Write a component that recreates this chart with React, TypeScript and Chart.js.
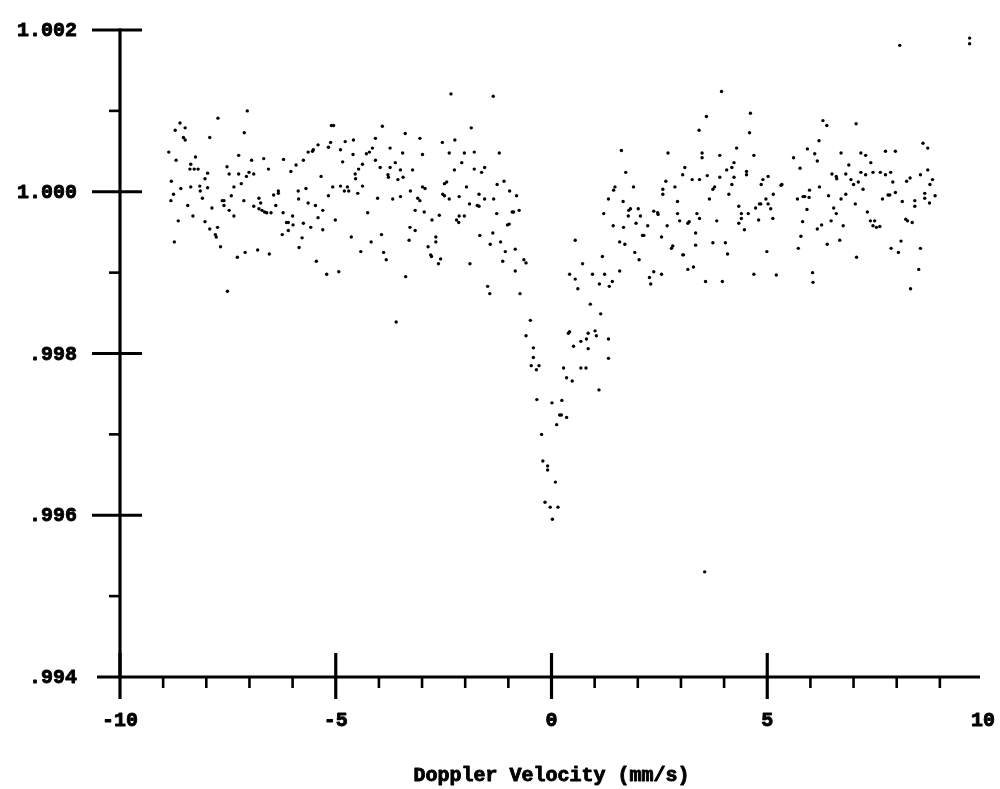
import React, { useEffect, useRef } from "react";
import { Chart, registerables } from "chart.js";

Chart.register(...registerables);

// ---- Data (velocity in mm/s, relative transmission) ----
const leftWingVelocity = [
  -7.05, -7.73, -8.61, -8.72, -8.49, -8.53, -8.49, -7.92, -7.12, -5.05,
  -5.10, -8.87, -8.70, -8.25, -8.36, -8.38, -8.28, -8.19, -7.97, -8.03,
  -8.81, -8.59, -8.76, -8.82, -8.36, -8.15, -8.14, -7.97, -8.09, -8.43,
  -8.31, -8.65, -8.74, -7.87, -7.63, -7.59, -7.59, -7.47, -7.36, -7.42,
  -7.36, -7.47, -7.52, -7.25, -7.25, -7.19, -7.13, -7.07, -7.01, -6.90,
  -6.95, -6.67, -6.56, -6.78, -6.74, -6.90, -6.78, -6.71, -6.65, -6.60,
  -6.50, -6.39, -6.44, -6.33, -6.33, -6.21, -6.04, -5.92, -5.75, -5.64,
  -5.54, -5.52, -5.41, -5.17, -5.12, -4.89, -4.78, -4.59, -4.84, -4.60,
  -4.55, -4.54, -4.47, -5.34, -5.07, -4.89, -4.80, -4.73, -4.70, -4.49,
  -5.17, -5.87, -5.69, -5.86, -5.64, -5.47, -5.30, -5.41, -5.01, -6.22,
  -6.00, -6.14, -6.10, -5.99, -6.10, -5.75, -5.58, -5.30, -6.24, -5.78,
  -5.85, -4.64, -5.45, -5.21, -4.93, -8.03, -7.92, -7.74, -7.79, -7.77,
  -7.67, -7.28, -7.10, -6.81, -6.54, -7.51,
];
const leftWingTransmission = [
  1.00100, 1.00091, 1.00085, 1.00076, 1.00079, 1.00067, 1.00064, 1.00067, 1.00073, 1.00082,
  1.00082, 1.00049, 1.00039, 1.00043, 1.00034, 1.00028, 1.00028, 1.00028, 1.00023, 1.00016,
  1.00013, 1.00004, 0.99997, 0.99989, 1.00006, 1.00007, 1.00001, 1.00005, 0.99992, 0.99983,
  0.99970, 0.99964, 0.99938, 0.99980, 0.99989, 0.99989, 0.99983, 0.99977, 0.99970, 0.99995,
  1.00006, 1.00022, 1.00031, 1.00045, 1.00022, 1.00010, 0.99989, 1.00019, 1.00024, 1.00022,
  1.00039, 1.00041, 1.00028, 0.99992, 0.99986, 0.99982, 0.99979, 0.99977, 0.99975, 0.99974,
  0.99974, 0.99983, 0.99996, 1.00001, 0.99998, 1.00040, 1.00025, 1.00033, 1.00039, 1.00049,
  1.00050, 1.00052, 1.00058, 1.00055, 1.00061, 1.00052, 1.00062, 1.00064, 1.00037, 1.00046,
  1.00022, 1.00016, 1.00028, 1.00019, 1.00006, 1.00007, 1.00001, 1.00006, 1.00001, 0.99998,
  0.99995, 1.00001, 1.00004, 0.99991, 0.99986, 0.99983, 0.99977, 0.99968, 0.99965, 0.99974,
  0.99970, 0.99962, 0.99962, 0.99959, 0.99952, 0.99961, 0.99956, 0.99953, 0.99947, 0.99943,
  0.99931, 0.99944, 0.99914, 0.99898, 0.99901, 0.99963, 0.99954, 0.99956, 0.99947, 0.99944,
  0.99932, 0.99919, 0.99925, 0.99928, 0.99923, 0.99877,
];

const innerLeftVelocity = [
  -2.33, -1.35, -3.92, -3.39, -4.08, -3.05, -1.86, -2.24, -2.53, -4.15,
  -3.74, -4.29, -4.22, -3.45, -2.99, -2.37, -2.02, -1.79, -1.21, -4.08,
  -4.38, -3.97, -3.74, -3.62, -3.50, -3.22, -3.79, -3.78, -3.56, -3.44,
  -2.08, -2.25, -1.79, -1.62, -1.55, -4.38, -3.27, -2.99, -2.93, -2.48,
  -2.43, -1.97, -1.26, -1.10, -0.97, -0.81, -4.03, -3.68, -3.50, -3.10,
  -3.05, -2.52, -2.48, -2.37, -2.14, -1.90, -1.72, -1.68, -1.68, -1.55,
  -1.34, -4.26, -3.16, -2.95, -2.60, -2.77, -2.20, -2.15, -2.14, -2.02,
  -1.27, -0.91, -0.88, -0.75, -1.02, -0.98, -3.28, -3.16, -3.94, -4.18,
  -3.30, -2.68, -2.68, -2.86, -2.80, -2.78, -2.57, -2.62, -1.89, -1.66,
  -1.36, -1.42, -1.18, -1.07, -0.84, -1.13, -0.64, -0.59, -0.84, -4.42,
  -3.89, -3.83, -3.38, -1.48, -1.43, -0.73, -3.60,
];
const innerLeftTransmission = [
  1.00121, 1.00118, 1.00081, 1.00072, 1.00066, 1.00066, 1.00079, 1.00064, 1.00061, 1.00054,
  1.00054, 1.00047, 1.00049, 1.00048, 1.00046, 1.00048, 1.00048, 1.00049, 1.00048, 1.00039,
  1.00034, 1.00030, 1.00030, 1.00036, 1.00027, 1.00027, 1.00021, 1.00018, 1.00015, 1.00018,
  1.00036, 1.00027, 1.00028, 1.00024, 1.00030, 1.00007, 1.00001, 1.00006, 1.00004, 1.00010,
  1.00012, 1.00006, 1.00009, 1.00013, 1.00001, 0.99995, 0.99992, 0.99991, 0.99994, 0.99992,
  0.99989, 0.99997, 0.99995, 0.99991, 0.99994, 0.99985, 0.99983, 0.99982, 0.99997, 0.99991,
  0.99991, 0.99974, 0.99977, 0.99975, 0.99971, 0.99965, 0.99965, 0.99962, 0.99970, 0.99970,
  0.99973, 0.99975, 0.99975, 0.99977, 0.99959, 0.99960, 0.99956, 0.99952, 0.99947, 0.99938,
  0.99940, 0.99944, 0.99938, 0.99932, 0.99922, 0.99920, 0.99917, 0.99911, 0.99911, 0.99946,
  0.99949, 0.99935, 0.99938, 0.99926, 0.99929, 0.99914, 0.99916, 0.99912, 0.99902, 0.99926,
  0.99925, 0.99916, 0.99895, 0.99883, 0.99874, 0.99874, 0.99839,
];

const dipVelocity = [
  0.90, 1.14, -0.49, -0.59, -0.42, -0.42, -0.47, -0.29, -0.35, 0.39,
  0.42, 0.85, 1.01, 1.04, 0.81, 0.68, 0.51, 0.85, 1.32, 1.32,
  0.28, 0.68, 0.80, 0.35, 0.48, 1.10, -0.34, 0.01, 0.24, 0.19,
  0.23, 0.35, 0.12, -0.23, -0.20, -0.09, -0.09, 0.09, -0.15, -0.03,
  0.15, 0.02,
];
const dipTransmission = [
  0.99861, 0.99849, 0.99841, 0.99822, 0.99807, 0.99795, 0.99785, 0.99785, 0.99780, 0.99825,
  0.99827, 0.99825, 0.99828, 0.99822, 0.99818, 0.99815, 0.99809, 0.99806, 0.99818, 0.99794,
  0.99782, 0.99782, 0.99782, 0.99770, 0.99766, 0.99755, 0.99743, 0.99739, 0.99742, 0.99724,
  0.99724, 0.99721, 0.99712, 0.99700, 0.99667, 0.99661, 0.99656, 0.99641, 0.99616, 0.99610,
  0.99610, 0.99595,
];

const innerRightVelocity = [
  3.94, 3.59, 3.42, 1.62, 2.70, 3.49, 3.49, 3.90, 4.29, 4.23,
  4.18, 4.06, 4.23, 4.18, 4.11, 4.34, 1.72, 3.09, 3.04, 3.26,
  3.43, 3.61, 3.90, 2.65, 2.58, 2.58, 2.86, 3.74, 3.78, 3.66,
  1.47, 1.44, 1.90, 1.32, 1.66, 2.92, 1.21, 1.83, 1.79, 2.01,
  1.78, 2.06, 2.37, 2.46, 2.47, 2.92, 3.37, 3.43, 3.16, 3.19,
  2.97, 3.83, 4.34, 1.43, 1.67, 1.96, 2.23, 2.68, 3.34, 2.11,
  2.14, 2.55, 0.55, 1.58, 1.70, 2.81, 2.78, 3.34, 3.74, 4.03,
  4.08, 3.04, 3.06, 1.93, 2.03, 1.18, 0.72, 1.58, 0.95, 1.23,
  0.42, 0.55, 0.61, 1.11, 1.34, 1.41, 2.37, 2.55, 2.27, 2.30,
  3.16, 3.29, 3.57, 3.96, 3.55,
];
const innerRightTransmission = [
  1.00124, 1.00093, 1.00076, 1.00051, 1.00048, 1.00048, 1.00042, 1.00045, 1.00054, 1.00036,
  1.00030, 1.00027, 1.00018, 1.00009, 0.99997, 0.99982, 1.00024, 1.00030, 1.00021, 1.00015,
  1.00015, 1.00020, 1.00018, 1.00013, 1.00003, 0.99997, 1.00006, 1.00003, 1.00006, 0.99991,
  1.00006, 1.00002, 1.00006, 0.99991, 0.99988, 0.99988, 0.99973, 0.99979, 0.99977, 0.99979,
  0.99970, 0.99970, 0.99976, 0.99974, 0.99972, 0.99973, 0.99973, 0.99967, 0.99961, 0.99963,
  0.99964, 0.99964, 0.99961, 0.99958, 0.99956, 0.99961, 0.99958, 0.99958, 0.99949, 0.99946,
  0.99946, 0.99944, 0.99940, 0.99938, 0.99935, 0.99933, 0.99930, 0.99934, 0.99937, 0.99937,
  0.99923, 0.99922, 0.99922, 0.99925, 0.99916, 0.99920, 0.99911, 0.99902, 0.99898, 0.99898,
  0.99898, 0.99892, 0.99880, 0.99886, 0.99883, 0.99889, 0.99901, 0.99898, 0.99894, 0.99886,
  0.99904, 0.99907, 0.99889, 0.99889, 0.99530,
];

const rightWingVelocity = [
  8.07, 9.69, 9.69, 4.61, 4.59, 4.69, 4.52, 4.52, 6.29, 6.38,
  7.06, 6.20, 5.93, 6.10, 6.16, 5.76, 6.71, 7.17, 7.28, 7.40,
  6.89, 7.74, 7.97, 8.61, 8.72, 8.72, 8.55, 8.83, 8.77, 8.23,
  8.31, 7.91, 7.86, 7.74, 7.62, 7.45, 7.28, 7.17, 6.82, 6.94,
  7.11, 7.00, 7.22, 6.60, 6.61, 6.50, 6.21, 5.98, 5.83, 5.87,
  5.97, 5.70, 5.92, 6.42, 6.71, 6.82, 7.04, 6.54, 6.60, 7.32,
  7.39, 7.49, 7.45, 7.53, 7.61, 7.67, 7.80, 7.84, 7.97, 8.13,
  8.42, 8.42, 8.65, 8.65, 8.76, 8.89, 8.21, 8.25, 8.36, 8.10,
  7.87, 8.04, 8.55, 8.51, 8.32, 7.07, 6.68, 6.39, 6.26, 6.16,
  6.48, 6.76, 5.82, 5.78, 5.72, 6.05, 6.06, 4.99, 4.69, 5.02,
  4.90, 4.86, 5.32, 5.34, 5.02, 4.82, 4.85, 4.73, 4.97, 5.08,
  4.56, 4.40, 4.40, 4.80, 4.47, 5.61, 5.21, 5.14, 5.13,
];
const rightWingTransmission = [
  1.00181, 1.00190, 1.00183, 1.00097, 1.00073, 1.00045, 1.00025, 1.00021, 1.00088, 1.00082,
  1.00084, 1.00063, 1.00053, 1.00047, 1.00038, 1.00029, 1.00048, 1.00048, 1.00045, 1.00036,
  1.00033, 1.00050, 1.00050, 1.00060, 1.00054, 1.00027, 1.00021, 1.00015, 1.00009, 1.00013,
  1.00017, 1.00012, 1.00024, 1.00021, 1.00024, 1.00024, 1.00021, 1.00024, 1.00022, 1.00015,
  1.00012, 1.00009, 1.00003, 1.00019, 1.00016, 1.00022, 1.00006, 1.00002, 0.99994, 0.99994,
  0.99993, 0.99991, 0.99978, 0.99995, 0.99991, 0.99997, 0.99985, 0.99980, 0.99973, 0.99975,
  0.99964, 0.99964, 0.99958, 0.99956, 0.99957, 0.99991, 0.99996, 0.99996, 0.99999, 0.99988,
  0.99989, 0.99982, 0.99998, 0.99992, 0.99986, 0.99995, 0.99966, 0.99964, 0.99962, 0.99939,
  0.99930, 0.99925, 0.99930, 0.99904, 0.99880, 0.99919, 0.99940, 0.99935, 0.99959, 0.99954,
  0.99964, 0.99958, 0.99963, 0.99945, 0.99930, 0.99900, 0.99888, 0.99926, 0.99898, 1.00019,
  1.00015, 1.00009, 1.00008, 1.00009, 0.99985, 0.99985, 0.99985, 0.99980, 0.99991, 0.99979,
  0.99973, 0.99973, 0.99967, 0.99965, 0.99953, 1.00042, 0.99897, 0.99997, 0.99967,
];

// ---- Axes ----
const xTickValues = [-10, -5, 0, 5, 10];
const xTickLabels = ["-10", "-5", "0", "5", "10"];
const xMajorMarks = [-10, -5, 0, 5];
const xMinorMarks = [-9, -8, -7, -6, -4, -3, -2, -1, 1, 2, 3, 4, 6, 7, 8, 9];
const yTickValues = [1.002, 1.0, 0.998, 0.996, 0.994];
const yTickLabels = ["1.002", "1.000", ".998", ".996", ".994"];
const yMajorMarks = [1.002, 1.0, 0.998, 0.996];
const yMinorMarks = [1.001, 0.999, 0.997, 0.995];
const xAxisTitle = "Doppler Velocity (mm/s)";

const FONT = 'bold 20px "Liberation Mono", "Courier New", monospace';

const axesPlugin = {
  id: "typedAxes",
  afterDraw(chart: any) {
    const { ctx } = chart;
    const xs = chart.scales.x;
    const ys = chart.scales.y;
    const x0 = xs.getPixelForValue(-10);
    const y0 = ys.getPixelForValue(0.994);
    const yTop = ys.getPixelForValue(1.002);
    const xEnd = xs.getPixelForValue(10);
    const line = (a: number, b: number, c: number, d: number) => {
      ctx.beginPath();
      ctx.moveTo(a, b);
      ctx.lineTo(c, d);
      ctx.stroke();
    };
    ctx.save();
    ctx.strokeStyle = "#000";
    ctx.lineCap = "butt";
    ctx.lineWidth = 3.2;
    line(x0, yTop - 1.5, x0, y0 + 1.5);
    line(x0 - 23, y0, xEnd - 3, y0);
    yMajorMarks.forEach((v) => {
      const p = ys.getPixelForValue(v);
      line(x0 - 28, p, x0 + 22, p);
    });
    xMajorMarks.forEach((v) => {
      const p = xs.getPixelForValue(v);
      line(p, y0 - 24, p, y0 + 22);
    });
    ctx.lineWidth = 2.6;
    yMinorMarks.forEach((v) => {
      const p = ys.getPixelForValue(v);
      line(x0 - 11, p, x0, p);
    });
    xMinorMarks.forEach((v) => {
      const p = xs.getPixelForValue(v);
      line(p, y0, p, y0 + 11);
    });

    ctx.fillStyle = "#000";
    ctx.font = FONT;
    ctx.lineWidth = 0.9;
    ctx.lineJoin = "round";
    const text = (s: string, x: number, y: number) => {
      ctx.fillText(s, x, y);
      ctx.strokeText(s, x, y);
    };
    ctx.textAlign = "right";
    ctx.textBaseline = "middle";
    yTickValues.forEach((v, i) => {
      text(yTickLabels[i], x0 - 43, ys.getPixelForValue(v) + 1);
    });
    ctx.textAlign = "center";
    xTickValues.forEach((v, i) => {
      text(xTickLabels[i], xs.getPixelForValue(v), y0 + 44);
    });
    text(xAxisTitle, xs.getPixelForValue(0), y0 + 99);
    ctx.restore();
  },
};

export default function App() {
  const canvasRef = useRef<HTMLCanvasElement | null>(null);

  useEffect(() => {
    const canvas = canvasRef.current;
    if (!canvas) return;
    const velocity = [
      ...leftWingVelocity,
      ...innerLeftVelocity,
      ...dipVelocity,
      ...innerRightVelocity,
      ...rightWingVelocity,
    ];
    const transmission = [
      ...leftWingTransmission,
      ...innerLeftTransmission,
      ...dipTransmission,
      ...innerRightTransmission,
      ...rightWingTransmission,
    ];
    const points = velocity.map((v, i) => ({ x: v, y: transmission[i] }));

    const chart = new Chart(canvas, {
      type: "scatter",
      data: {
        datasets: [
          {
            label: "Transmission",
            data: points,
            pointRadius: 1.7,
            pointHoverRadius: 1.7,
            pointBackgroundColor: "#000",
            pointBorderWidth: 0,
            showLine: false,
          },
        ],
      },
      options: {
        animation: false,
        responsive: false,
        devicePixelRatio: 1,
        layout: { padding: { left: 120, right: 17, top: 30, bottom: 112 } },
        plugins: {
          legend: { display: false },
          tooltip: { enabled: false },
        },
        scales: {
          x: { type: "linear", min: -10, max: 10, display: false },
          y: { type: "linear", min: 0.994, max: 1.002, display: false },
        },
      },
      plugins: [axesPlugin],
    });
    return () => chart.destroy();
  }, []);

  return (
    <div style={{ position: "absolute", left: 0, top: 0, width: 1000, height: 789, background: "#fff" }}>
      <canvas ref={canvasRef} width={1000} height={789} style={{ display: "block" }} />
    </div>
  );
}
